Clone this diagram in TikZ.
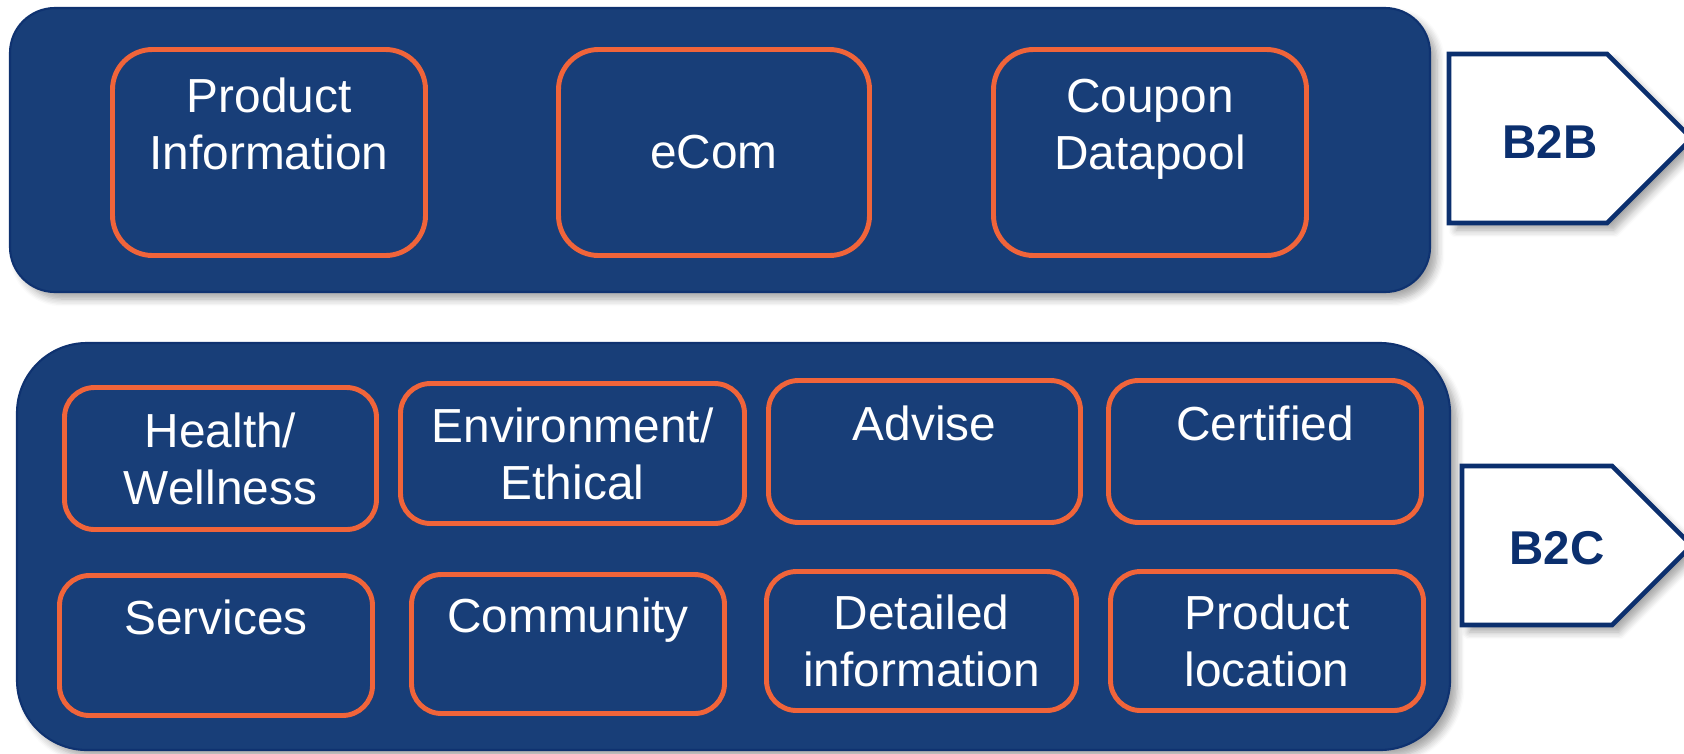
\documentclass[tikz,border=0pt]{standalone}
\usepackage{fontspec}
\setmainfont{Liberation Sans}
\usepackage{tikz}
\usepackage{xcolor}
\usetikzlibrary{shadows.blur}

\definecolor{navy}{HTML}{183E78}
\definecolor{navyline}{HTML}{0F3270}
\definecolor{tagblue}{HTML}{0B2F6E}
\definecolor{accent}{HTML}{F0643A}

\begin{document}
\begin{tikzpicture}[every node/.style={inner sep=0pt,align=center},
  panel/.style={rounded corners=#1,draw=navyline,line width=0.6pt,fill=navy,
    blur shadow={shadow xshift=2pt,shadow yshift=-2pt,shadow opacity=35,shadow blur steps=6}},
  item/.style={rounded corners=#1,draw=accent,line width=1.4pt,text=white,
    font=\fontsize{13.6}{16.2}\selectfont},
  tag/.style={draw=tagblue,line width=1.3pt,line join=miter,fill=white,
    blur shadow={shadow xshift=2pt,shadow yshift=-2pt,shadow opacity=35,shadow blur steps=6}},
  tagtext/.style={text=tagblue,font=\fontsize{13.5}{15}\selectfont\bfseries}]
\useasboundingbox (0,0) rectangle (16.84,-7.53);

% the two channel panels
\node (b2bpanel) at (7.20,-1.50) [panel=0.45cm,minimum width=14.20cm,minimum height=2.84cm] {};
\node (b2cpanel) at (7.335,-5.465) [panel=0.7cm,minimum width=14.33cm,minimum height=4.07cm] {};

% B2B content
\node (prodinfo) at (2.69,-1.525) [item=0.4cm,minimum width=3.13cm,minimum height=2.06cm]
{Product\\Information\\\mbox{}};
\node (ecom) at (7.14,-1.525) [item=0.4cm,minimum width=3.11cm,minimum height=2.06cm] {eCom};
\node (coupon) at (11.50,-1.525) [item=0.4cm,minimum width=3.13cm,minimum height=2.06cm]
{Coupon\\Datapool\\\mbox{}};

% B2C content, first row
\node (health) at (2.205,-4.585) [item=0.3cm,minimum width=3.12cm,minimum height=1.42cm]
{Health/\\Wellness};
\node (environ) at (5.725,-4.535) [item=0.3cm,minimum width=3.44cm,minimum height=1.40cm]
{Environment/\\Ethical};
\node (advise) at (9.245,-4.515) [item=0.3cm,minimum width=3.12cm,minimum height=1.42cm]
{Advise\\\mbox{}};
\node (certified) at (12.65,-4.515) [item=0.3cm,minimum width=3.13cm,minimum height=1.42cm]
{Certified\\\mbox{}};

% B2C content, second row
\node (services) at (2.16,-6.455) [item=0.3cm,minimum width=3.13cm,minimum height=1.40cm]
{Services\\\mbox{}};
\node (community) at (5.68,-6.44) [item=0.3cm,minimum width=3.13cm,minimum height=1.39cm]
{Community\\\mbox{}};
\node (detailed) at (9.215,-6.41) [item=0.3cm,minimum width=3.10cm,minimum height=1.39cm]
{Detailed\\information};
\node (location) at (12.67,-6.41) [item=0.3cm,minimum width=3.13cm,minimum height=1.39cm]
{Product\\location};

% channel tags
\draw[tag] (14.49,-0.54) -- (16.07,-0.54) -- (16.915,-1.385) -- (16.07,-2.23)
  -- (14.49,-2.23) -- cycle;
\draw[tag] (14.62,-4.66) -- (16.12,-4.66) -- (16.915,-5.455) -- (16.12,-6.25)
  -- (14.62,-6.25) -- cycle;
\node (b2blabel) at (15.50,-1.42) [tagtext] {B2B};
\node (b2clabel) at (15.57,-5.48) [tagtext] {B2C};
\end{tikzpicture}
\end{document}
